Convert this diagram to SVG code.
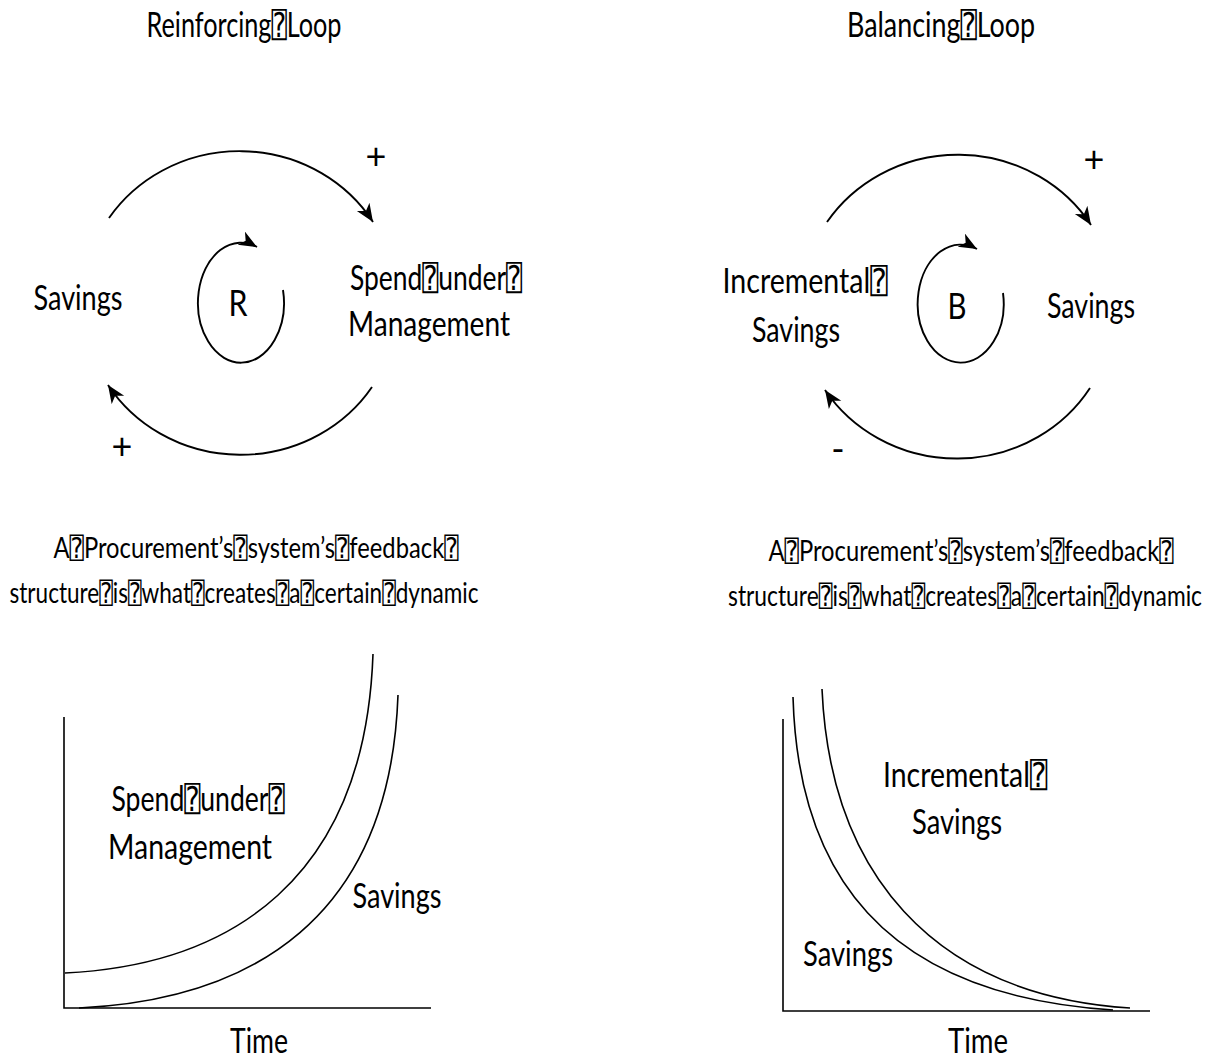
<svg xmlns="http://www.w3.org/2000/svg" width="1220" height="1062" viewBox="0 0 1220 1062">
  <style>
    text { font-family: Lato, "DejaVu Sans Mono", "DejaVu Sans", sans-serif; fill: #000; text-anchor: middle; }
    .title { font-size: 28px; }
    .lbl { font-size: 28px; }
    .cap { font-size: 21px; }
    .big { font-size: 30px; }
    .sign { font-size: 36px; }
    .ln { fill: none; stroke: #000; stroke-width: 1.6; }
    .arr { fill: none; stroke: #000; stroke-width: 1.9; marker-end: url(#head); }
    .axis { fill: none; stroke: #000; stroke-width: 1.6; }
  </style>
  <defs>
    <marker id="head" markerUnits="userSpaceOnUse" markerWidth="20" markerHeight="16" refX="18" refY="7.5" orient="auto">
      <path d="M0,0 L18,7.5 L0,15 L5,7.5 z" fill="#000"/>
    </marker>
  </defs>

  <!-- titles -->
  <text id="title-reinforcing" class="title" transform="translate(244,37) scale(1,1.22)" textLength="195" lengthAdjust="spacingAndGlyphs">Reinforcing⍰Loop</text>
  <text id="title-balancing" class="title" transform="translate(941,37) scale(1,1.22)" textLength="188" lengthAdjust="spacingAndGlyphs">Balancing⍰Loop</text>

  <!-- causal loop connectors -->
  <g id="connectors">
    <path class="arr" d="M109,218 A157,150 0 0 1 373,222"/>
    <path class="arr" d="M372,387 A157,150 0 0 1 108,385"/>
    <path class="arr" d="M283,290 A43,60 0 1 1 257,247"/>
    <path class="arr" d="M827,222 A157,150 0 0 1 1091,225"/>
    <path class="arr" d="M1090,388 A157,150 0 0 1 825,390"/>
    <path class="arr" d="M1003,293 A43,59 0 1 1 977,249"/>
  </g>

  <!-- reinforcing loop nodes -->
  <g id="r-savings"><text class="lbl" transform="translate(78,310) scale(1,1.22)" textLength="89" lengthAdjust="spacingAndGlyphs">Savings</text></g>
  <g id="r-spend">
    <text class="lbl" transform="translate(436,290) scale(1,1.22)" textLength="172" lengthAdjust="spacingAndGlyphs">Spend⍰under⍰</text>
    <text class="lbl" transform="translate(429,336) scale(1,1.22)" textLength="162" lengthAdjust="spacingAndGlyphs">Management</text>
  </g>
  <g id="r-marker"><text class="big" transform="translate(238,316) scale(1,1.25)" textLength="19" lengthAdjust="spacingAndGlyphs">R</text></g>
  <g id="r-signs">
    <text class="sign" x="376" y="169">+</text>
    <text class="sign" x="122" y="459">+</text>
  </g>

  <!-- balancing loop nodes -->
  <g id="b-incremental">
    <text class="lbl" transform="translate(805,293) scale(1,1.22)" textLength="165" lengthAdjust="spacingAndGlyphs">Incremental⍰</text>
    <text class="lbl" transform="translate(796,342) scale(1,1.22)" textLength="88" lengthAdjust="spacingAndGlyphs">Savings</text>
  </g>
  <g id="b-savings"><text class="lbl" transform="translate(1091,318) scale(1,1.22)" textLength="88" lengthAdjust="spacingAndGlyphs">Savings</text></g>
  <g id="b-marker"><text class="big" transform="translate(957,319) scale(1,1.25)" textLength="19" lengthAdjust="spacingAndGlyphs">B</text></g>
  <g id="b-signs">
    <text class="sign" x="1094" y="172">+</text>
    <text class="sign" x="838" y="462">-</text>
  </g>

  <!-- captions -->
  <g id="caption-left">
    <text class="cap" transform="translate(256,558) scale(1,1.35)" textLength="405" lengthAdjust="spacingAndGlyphs">A⍰Procurement’s⍰system’s⍰feedback⍰</text>
    <text class="cap" transform="translate(244,603) scale(1,1.35)" textLength="469" lengthAdjust="spacingAndGlyphs">structure⍰is⍰what⍰creates⍰a⍰certain⍰dynamic</text>
  </g>
  <g id="caption-right">
    <text class="cap" transform="translate(971,561) scale(1,1.35)" textLength="405" lengthAdjust="spacingAndGlyphs">A⍰Procurement’s⍰system’s⍰feedback⍰</text>
    <text class="cap" transform="translate(965,606) scale(1,1.35)" textLength="474" lengthAdjust="spacingAndGlyphs">structure⍰is⍰what⍰creates⍰a⍰certain⍰dynamic</text>
  </g>

  <!-- growth chart -->
  <g id="chart-growth">
    <path class="axis" d="M64,717 V1008 H431"/>
    <path class="ln" d="M65,973 C230,965 365,880 373,654"/>
    <path class="ln" d="M79,1008 C250,1000 390,920 398,695"/>
    <text class="lbl" transform="translate(198,811) scale(1,1.22)" textLength="173" lengthAdjust="spacingAndGlyphs">Spend⍰under⍰</text>
    <text class="lbl" transform="translate(190,859) scale(1,1.22)" textLength="164" lengthAdjust="spacingAndGlyphs">Management</text>
    <text class="lbl" transform="translate(397,908) scale(1,1.22)" textLength="89" lengthAdjust="spacingAndGlyphs">Savings</text>
    <text class="lbl" transform="translate(259,1053) scale(1,1.22)" textLength="58" lengthAdjust="spacingAndGlyphs">Time</text>
  </g>

  <!-- decay chart -->
  <g id="chart-decay">
    <path class="axis" d="M783,719 V1011 H1150"/>
    <path class="ln" d="M793,697 C798,870 880,995 1113,1010"/>
    <path class="ln" d="M822,689 C830,870 930,995 1130,1008"/>
    <text class="lbl" transform="translate(965,787) scale(1,1.22)" textLength="164" lengthAdjust="spacingAndGlyphs">Incremental⍰</text>
    <text class="lbl" transform="translate(957,834) scale(1,1.22)" textLength="90" lengthAdjust="spacingAndGlyphs">Savings</text>
    <text class="lbl" transform="translate(848,966) scale(1,1.22)" textLength="90" lengthAdjust="spacingAndGlyphs">Savings</text>
    <text class="lbl" transform="translate(978,1053) scale(1,1.22)" textLength="60" lengthAdjust="spacingAndGlyphs">Time</text>
  </g>
</svg>
